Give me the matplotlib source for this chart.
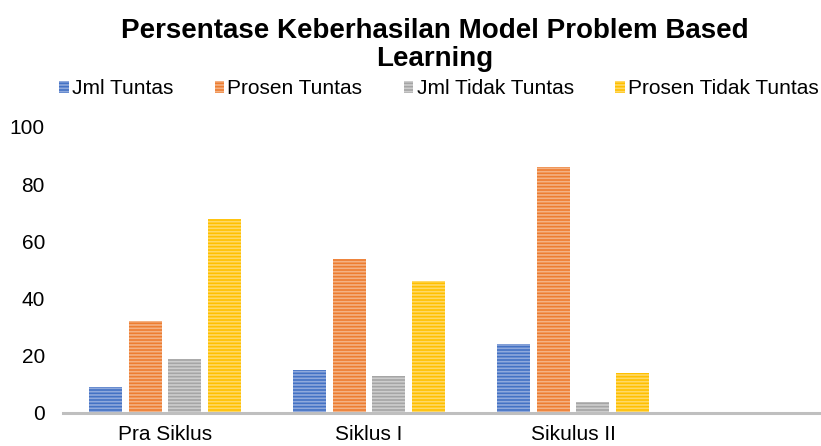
import numpy as np
import matplotlib.pyplot as plt

plt.rcParams['font.family'] = ['Liberation Sans', 'DejaVu Sans']
plt.rcParams['hatch.linewidth'] = 1.2

# data
categories = ['Pra Siklus', 'Siklus I', 'Sikulus II']
series_names = ['Jml Tuntas', 'Prosen Tuntas', 'Jml Tidak Tuntas', 'Prosen Tidak Tuntas']
jml_tuntas = [9, 15, 24]
prosen_tuntas = [32, 54, 86]
jml_tidak_tuntas = [19, 13, 4]
prosen_tidak_tuntas = [68, 46, 14]

colors = ['#4472C4', '#ED7D31', '#A5A5A5', '#FFC000']
stripe = ['#8FA9DC', '#F4B183', '#CDCDCD', '#FFD966']

fig = plt.figure(figsize=(8.21, 4.46), dpi=100)
ax = fig.add_axes([63 / 821, 1 - 413 / 446, 1 - 63 / 821, (413 - 127) / 446])

x = np.arange(len(categories))
width = 0.162
pitch = 0.194
all_series = [jml_tuntas, prosen_tuntas, jml_tidak_tuntas, prosen_tidak_tuntas]
for i, vals in enumerate(all_series):
    offs = (i - 1.5) * pitch
    ax.bar(x + offs, vals, width, color=colors[i], edgecolor=stripe[i],
           hatch='-----', linewidth=0, label=series_names[i])

ax.set_xlim(-0.5, 3.216)
ax.set_ylim(0, 100)
ax.set_yticks(range(0, 101, 20))
ax.set_xticks(x)
ax.set_xticklabels(categories, fontsize=15)
ax.tick_params(axis='y', length=0, pad=13, labelsize=15)
ax.tick_params(axis='x', length=0, pad=9)
for s in ['top', 'right', 'left']:
    ax.spines[s].set_visible(False)
ax.spines['bottom'].set_color('#BFBFBF')
ax.spines['bottom'].set_linewidth(2.2)

fig.text(435 / 821, 1 - 45 / 446, 'Persentase Keberhasilan Model Problem Based\nLearning',
         ha='center', va='center', fontsize=20, fontweight='bold', linespacing=1.12)

fig.legend(loc='center', bbox_to_anchor=(439 / 821, 1 - 89 / 446), ncol=4, frameon=False,
           fontsize=15, handlelength=0.45, handleheight=0.5, handletextpad=0.15,
           columnspacing=2.0)

fig.savefig('out.png', dpi=100)
